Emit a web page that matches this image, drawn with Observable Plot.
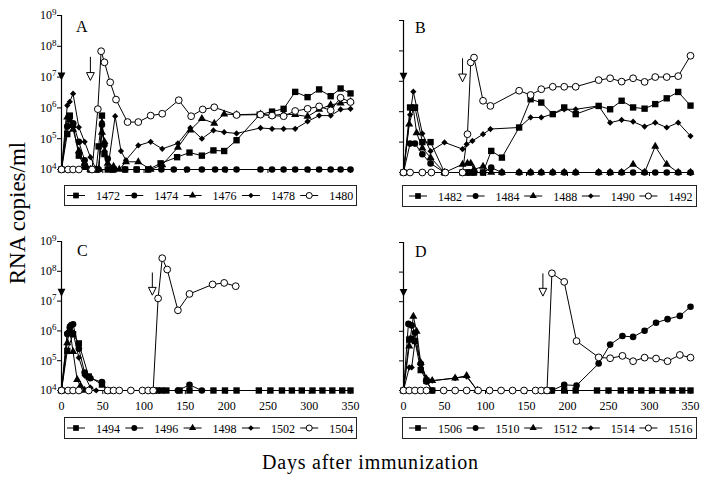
<!DOCTYPE html>
<html>
<head>
<meta charset="utf-8">
<script src="https://cdn.jsdelivr.net/npm/d3@7"></script>
<script src="https://cdn.jsdelivr.net/npm/@observablehq/plot@0.6"></script>
<style>
  html, body { margin: 0; padding: 0; background: #fff; }
  #wrap { position: relative; width: 711px; height: 480px; overflow: hidden; font-family: "Liberation Serif", serif; }
  .panel { position: absolute; }
  .panel svg { max-width: none; overflow: visible; background: transparent; }
  #overlay { position: absolute; left: 0; top: 0; pointer-events: none; }
</style>
</head>
<body>
<div id="wrap"></div>
<script>
// ---------- data: [day, log10(RNA copies/ml)] ----------
const xTicks = [0, 50, 100, 150, 200, 250, 300, 350];
const yTicks = [1e4, 1e5, 1e6, 1e7, 1e8, 1e9];

// Panel A
const idsA = ["1472", "1474", "1476", "1478", "1480"];
const a1472 = [[0,4],[7,5.15],[10,5.75],[14,5.45],[21,4.45],[28,4.1],[35,4],[42,4],[45,4.75],[49,5.75],[52,4.5],[56,4],[63,4],[77,4],[91,4],[105,4],[120,4.2],[140,4.4],[155,4.55],[170,4.45],[184,4.62],[197,4.6],[212,4.95],[240,5.78],[255,5.88],[269,5.97],[283,6.52],[298,6.35],[312,6.6],[326,6.38],[338,6.63],[350,6.47]];
const a1474 = [[0,4],[7,5.4],[10,5.7],[14,5.5],[21,4.9],[28,4.3],[35,4],[42,4],[45,4],[49,5.45],[52,4.8],[56,4.35],[60,4],[63,4],[77,4],[91,4],[105,4],[121,4],[136,4],[152,4],[170,4],[186,4],[198,4],[212,4],[241,4],[255,4],[269,4],[283,4],[298,4],[312,4],[326,4],[338,4],[350,4]];
const a1476 = [[0,4],[7,5.7],[10,5.6],[14,5.3],[21,4.6],[28,4.2],[35,4],[42,4],[45,4],[49,5.2],[52,4.9],[56,4.2],[63,4.1],[70,4],[78,4.25],[93,4.25],[108,4],[122,4.15],[141,4.72],[156,5.28],[170,5.65],[185,5.5],[197,5.8],[212,5.78],[241,5.8],[255,5.75],[269,5.8],[283,5.78],[298,5.72],[312,5.95],[326,6.1],[338,6.15],[350,6.2]];
const a1478 = [[0,4],[7,6.08],[10,6.2],[14,6.46],[21,5.37],[28,4.9],[35,4.4],[42,4],[45,4],[49,5.54],[52,4.6],[56,4],[65,5.73],[72,4.6],[78,4.3],[93,4.78],[108,4.9],[122,4.67],[141,4.85],[156,5.35],[170,5.0],[184,5.27],[197,5.21],[212,5.17],[241,5.35],[255,5.32],[269,5.32],[283,5.32],[298,5.56],[312,5.75],[326,5.75],[338,5.95],[350,5.97]];
const a1480 = [[0,4],[8,4],[14,4],[21,4],[37,4],[44,5.96],[48,7.84],[52,7.48],[59,6.83],[66,6.27],[80,5.54],[93,5.54],[108,5.75],[122,5.81],[142,6.25],[157,5.73],[171,5.95],[185,6.02],[212,5.77],[241,5.78],[255,5.75],[269,5.73],[283,5.9],[298,5.97],[312,6.05],[326,5.92],[338,6.33],[350,6.19]];

// Panel B
const idsB = ["1482", "1484", "1488", "1490", "1492"];
const b1482 = [[0,4],[8,6.14],[14,6.14],[23,5.0],[33,5.0],[50,4],[72,4],[78,4],[82,4],[86,4],[97,4],[107,4.71],[120,4.49],[141,5.48],[155,6.41],[168,6.3],[182,5.92],[196,6.14],[210,5.92],[238,6.19],[252,6.08],[266,6.36],[280,6.14],[294,6.1],[307,6.25],[321,6.44],[335,6.65],[350,6.2]];
const b1484 = [[0,4],[8,4.95],[14,4.95],[23,4.6],[33,4.3],[50,4],[72,4],[78,4],[86,4],[97,4],[107,4.16],[120,4],[141,4],[155,4],[168,4],[182,4],[196,4],[210,4],[238,4],[252,4],[266,4],[280,4],[294,4],[307,4],[321,4],[335,4],[350,4]];
const b1488 = [[0,4],[7,5.59],[12,6.1],[16,5.3],[23,4.8],[33,4.49],[50,4],[72,4.27],[78,4.3],[82,4.3],[86,4.1],[97,4.2],[107,4],[120,4],[141,4],[155,4],[168,4],[182,4],[196,4],[210,4],[238,4],[252,4],[266,4],[280,4.27],[294,4],[307,4.86],[321,4.27],[335,4],[350,4]];
const b1490 = [[0,4],[8,5.9],[12,6.66],[23,5.28],[33,4.7],[50,4.99],[72,4.77],[77,4.93],[84,5.04],[97,5.26],[106,5.43],[141,5.48],[155,5.81],[168,5.81],[182,5.92],[196,6.08],[210,6.08],[238,6.19],[252,5.64],[266,5.73],[280,5.67],[294,5.51],[307,5.64],[321,5.48],[335,5.64],[350,5.2]];
const b1492 = [[0,4],[8,4],[23,4],[34,4],[51,4],[72,4],[78,5.26],[82,7.62],[86,7.78],[97,6.36],[106,6.19],[141,6.69],[155,6.55],[168,6.74],[182,6.82],[196,6.82],[210,6.82],[238,7.04],[252,7.1],[266,6.99],[280,7.1],[294,6.98],[307,7.14],[321,7.14],[335,7.17],[350,7.84]];

// Panel C
const idsC = ["1494", "1496", "1498", "1502", "1504"];
const c1494 = [[0,4],[7,5.33],[14,5.89],[21,5.58],[33,4.47],[49,4.2],[56,4],[112,4],[116,4],[121,4],[127,4],[143,4],[155,4],[184,4],[198,4],[212,4],[239,4],[253,4],[267,4],[279,4],[291,4],[304,4],[316,4],[328,4],[340,4],[350,4]];
const c1496 = [[0,4],[7,5.9],[10,6.11],[14,6.22],[21,5.4],[28,4.6],[35,4.41],[49,4.28],[56,4],[141,4],[155,4.19],[170,4]];
const c1498 = [[0,4],[7,5.6],[10,6.05],[14,5.3],[19,4.36],[23,4.15],[28,4]];
const c1502 = [[0,4],[7,5.95],[10,6.2],[14,5.95],[21,5.1],[28,4.5],[35,4.1],[42,4]];
const c1504 = [[0,4],[8,4],[14,4],[21,4],[33,4],[56,4],[63,4],[70,4],[84,4],[98,4],[105,4],[111,4],[117,7.09],[122,8.44],[128,8.06],[141,6.69],[155,7.24],[183,7.56],[197,7.61],[211,7.5]];

// Panel D
const idsD = ["1506", "1510", "1512", "1514", "1516"];
const d1506 = [[0,4],[7,5.72],[10,5.75],[14,5.67],[21,4.69],[28,4.33],[35,4],[175,4],[181,4],[196,4],[210,4],[236,4],[250,4],[265,4],[277,4],[290,4],[303,4],[316,4],[328,4],[340,4],[350,4]];
const d1510 = [[0,4],[6,6.25],[10,6.2],[14,5.95],[21,4.9],[28,4.3],[35,4],[175,4],[181,4],[196,4.19],[211,4.17],[238,4.91],[252,5.55],[267,5.84],[280,5.81],[294,6.02],[308,6.29],[322,6.41],[337,6.52],[350,6.83]];
const d1512 = [[0,4],[7,5.5],[12,6.5],[16,6.0],[21,4.94],[28,4.39],[35,4.33],[63,4.42],[77,4.5],[90,4]];
const d1514 = [[0,4],[7,4.78],[10,4.78],[14,5.65],[21,4.95],[28,4.4],[35,4.33],[63,4.42],[77,4.47],[90,4]];
const d1516 = [[0,4],[7,4],[14,4],[21,4],[28,4],[49,4],[63,4],[77,4],[91,4],[105,4],[119,4],[133,4],[147,4],[161,4],[168,4],[175,4],[181,7.96],[196,7.67],[211,5.67],[238,5.12],[252,5.09],[267,5.17],[280,4.99],[294,5.11],[308,5.08],[322,4.99],[337,5.2],[350,5.11]];

// arrows (second, open arrow: day; shaft top and head centre in log10 units), first filled arrow at day 0
const arrowOpenDay = [35, 72, 110, 170];
const arrowShaftTop = [7.64, 7.74, 7.94, 7.94];
const arrowOpenHead = [7.02, 7.11, 7.33, 7.32];
const arrowFilledHead = [7.02, 7.15, 7.28, 7.3];

const panelLetters = ["A", "B", "C", "D"];

// ---------- rendering ----------
const downTri = {
  draw(ctx, size) {
    const s = Math.sqrt(size);
    ctx.moveTo(-s / 2, -s / 2);
    ctx.lineTo(s / 2, -s / 2);
    ctx.lineTo(0, s / 2);
    ctx.closePath();
  }
};
const markerStyles = [
  {symbol: "square", r: 3.6, fill: "black"},
  {symbol: "circle", r: 3.3, fill: "black"},
  {symbol: "triangle", r: 3.0, fill: "black"},
  {symbol: "diamond2", r: 2.8, fill: "black"},
  {symbol: "circle", r: 3.4, fill: "white", stroke: "black", strokeWidth: 1}
];

const wrap = document.getElementById("wrap");

function makePanel(i, ids, series, drawOrder, box) {
  const marks = [
    Plot.ruleY([1e4], {stroke: "black", strokeWidth: 1}),
    Plot.ruleX([0], {stroke: "black", strokeWidth: 1.2})
  ];
  series.forEach(s => marks.push(Plot.line(s, {x: d => d[0], y: d => 10 ** d[1], stroke: "black", strokeWidth: 1})));
  drawOrder.forEach(k => {
    const st = markerStyles[k];
    marks.push(Plot.dot(series[k], {x: d => d[0], y: d => 10 ** d[1], ...st}));
  });
  const arrow = [{day: arrowOpenDay[i], top: 10 ** arrowShaftTop[i], head: 10 ** arrowOpenHead[i], fhead: 10 ** arrowFilledHead[i]}];
  marks.push(Plot.ruleX(arrow, {x: "day", y1: "top", y2: "head", stroke: "black", strokeWidth: 1}));
  marks.push(Plot.dot(arrow, {x: "day", y: "head", symbol: downTri, r: 4.4, fill: "white", stroke: "black", strokeWidth: 1}));
  marks.push(Plot.dot(arrow, {x: () => 0, y: "fhead", symbol: downTri, r: 4.4, fill: "black"}));

  const showX = box.showX, showY = box.showY;
  const svg = Plot.plot({
    width: box.w, height: box.h,
    marginLeft: box.ml, marginRight: box.mr, marginTop: box.mt, marginBottom: box.mb,
    style: {fontFamily: "'Liberation Serif', serif", fontSize: "12px", background: "transparent", overflow: "visible", color: "black"},
    x: {domain: [0, 350], ticks: xTicks, tickSize: 4, tickPadding: 7, label: null,
        tickFormat: showX ? (d => String(d)) : (() => "")},
    y: {type: "log", domain: [1e4, 1e9], ticks: yTicks, tickSize: 4, tickPadding: 1, label: null,
        tickFormat: showY ? (d => "10^" + Math.round(Math.log10(d))) : (() => "")},
    marks
  });
  // render "10^n" tick labels with a raised exponent
  svg.querySelectorAll("text").forEach(t => {
    const m = /^10\^(\d)$/.exec(t.textContent);
    if (!m) return;
    t.textContent = "";
    const ns = "http://www.w3.org/2000/svg";
    const base = document.createElementNS(ns, "tspan");
    base.textContent = "10";
    const ex = document.createElementNS(ns, "tspan");
    ex.textContent = m[1];
    ex.setAttribute("dy", "-0.5em");
    ex.setAttribute("font-size", "9px");
    t.appendChild(base);
    t.appendChild(ex);
  });
  const div = document.createElement("div");
  div.className = "panel";
  div.style.left = box.x + "px";
  div.style.top = box.y + "px";
  div.appendChild(svg);
  wrap.appendChild(div);
}

makePanel(0, idsA, [a1472, a1474, a1476, a1478, a1480], [0, 2, 3, 1, 4],
  {x: 0, y: 0, w: 356, h: 180, ml: 61, mr: 6, mt: 15, mb: 11, showX: false, showY: true});
makePanel(1, idsB, [b1482, b1484, b1488, b1490, b1492], [2, 0, 3, 1, 4],
  {x: 360, y: 0, w: 351, h: 180, ml: 43, mr: 21, mt: 20, mb: 8, showX: false, showY: false});
makePanel(2, idsC, [c1494, c1496, c1498, c1502, c1504], [1, 2, 3, 0, 4],
  {x: 0, y: 220, w: 356, h: 200, ml: 61, mr: 6, mt: 21, mb: 30, showX: true, showY: true});
makePanel(3, idsD, [d1506, d1510, d1512, d1514, d1516], [2, 3, 1, 0, 4],
  {x: 360, y: 220, w: 351, h: 200, ml: 43, mr: 21, mt: 22, mb: 30, showX: true, showY: false});

// ---------- legends ----------
function makeLegend(ids, box) {
  const svg = d3.create("svg").attr("width", box.w).attr("height", box.h)
    .style("position", "absolute").style("left", box.x + "px").style("top", box.y + "px");
  svg.append("rect").attr("x", 0.5).attr("y", 0.5).attr("width", box.w - 1).attr("height", box.h - 1)
    .attr("fill", "white").attr("stroke", "#222").attr("stroke-width", 1);
  const symbols = [d3.symbolSquare, d3.symbolCircle, d3.symbolTriangle, d3.symbolDiamond2, d3.symbolCircle];
  ids.forEach((id, k) => {
    const cx = box.first + k * box.pitch, cy = box.h / 2;
    const g = svg.append("g");
    g.append("line").attr("x1", cx - 9).attr("x2", cx + 9).attr("y1", cy).attr("y2", cy).attr("stroke", "black");
    const st = markerStyles[k];
    const size = Math.PI * st.r * st.r * 0.8;
    g.append("path").attr("transform", `translate(${cx},${cy})`)
      .attr("d", d3.symbol(symbols[k], size)())
      .attr("fill", st.fill).attr("stroke", st.stroke || "none");
    g.append("text").attr("x", cx + 20).attr("y", cy + 4.5)
      .attr("font-family", "'Liberation Serif', serif").attr("font-size", 12).text(id);
  });
  wrap.appendChild(svg.node());
}
makeLegend(idsA, {x: 64, y: 185, w: 293, h: 21, first: 12, pitch: 58.3});
makeLegend(idsB, {x: 402, y: 185, w: 295, h: 22, first: 16, pitch: 57.6});
makeLegend(idsC, {x: 64, y: 417, w: 293, h: 22, first: 12, pitch: 58.3});
makeLegend(idsD, {x: 402, y: 417, w: 295, h: 22, first: 16, pitch: 57.6});

// ---------- titles / panel letters ----------
const ov = d3.create("svg").attr("id", "overlay").attr("width", 711).attr("height", 480)
  .attr("font-family", "'Liberation Serif', serif");
const letterPos = [[76, 32], [415, 33], [77, 256], [415, 257]];
panelLetters.forEach((L, k) => {
  ov.append("text").attr("x", letterPos[k][0]).attr("y", letterPos[k][1]).attr("font-size", 16).text(L);
});
ov.append("text").attr("transform", "translate(25,213) rotate(-90)").attr("text-anchor", "middle")
  .attr("font-size", 23).text("RNA copies/ml");
ov.append("text").attr("x", 370).attr("y", 469).attr("text-anchor", "middle")
  .attr("font-size", 20).attr("textLength", 216).attr("lengthAdjust", "spacing").text("Days after immunization");
wrap.appendChild(ov.node());
</script>
</body>
</html>
